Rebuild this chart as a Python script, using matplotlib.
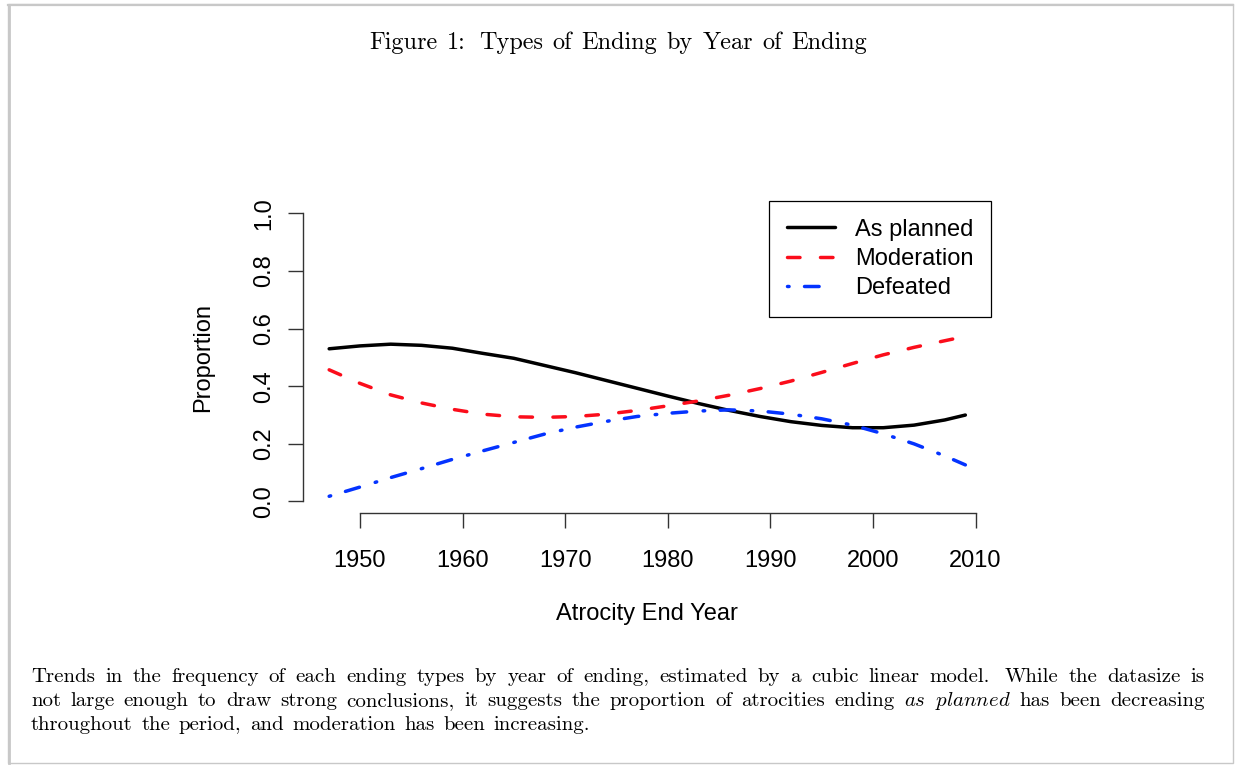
import matplotlib
matplotlib.use('Agg')
import matplotlib.pyplot as plt
from matplotlib.patches import Rectangle
from matplotlib.lines import Line2D

W, H = 1235, 765

# valores (ajuste cubico)
years = [1947, 1950, 1953, 1956, 1959, 1962, 1965, 1968, 1971, 1974, 1977,
         1980, 1983, 1986, 1989, 1992, 1995, 1998, 2001, 2004, 2007, 2009]
as_planned = [0.530, 0.540, 0.546, 0.542, 0.532, 0.514, 0.497, 0.472, 0.447, 0.420, 0.393,
              0.366, 0.340, 0.316, 0.295, 0.277, 0.264, 0.256, 0.256, 0.265, 0.283, 0.300]
moderation = [0.457, 0.410, 0.370, 0.342, 0.320, 0.303, 0.294, 0.292, 0.295, 0.303, 0.316,
              0.332, 0.349, 0.369, 0.392, 0.418, 0.448, 0.479, 0.509, 0.535, 0.558, 0.573]
defeated = [0.018, 0.050, 0.083, 0.114, 0.146, 0.176, 0.205, 0.234, 0.258, 0.278, 0.295,
            0.306, 0.314, 0.318, 0.314, 0.303, 0.287, 0.265, 0.235, 0.200, 0.158, 0.127]
labels = ['As planned', 'Moderation', 'Defeated']
x_ticks = [1950, 1960, 1970, 1980, 1990, 2000, 2010]
y_ticks = [0.0, 0.2, 0.4, 0.6, 0.8, 1.0]

title = "Figure 1: Types of Ending by Year of Ending"
cap1 = ("Trends in the frequency of each ending types by year of ending, estimated "
        "by a cubic linear model. While the datasize is")
cap2 = ("not large enough to draw strong conclusions, it suggests the proportion of "
        "atrocities ending $\\mathit{as}$ $\\mathit{planned}$ has been decreasing")
cap3 = "throughout the period, and moderation has been increasing."

plt.rcParams['font.family'] = 'Liberation Sans'
plt.rcParams['mathtext.fontset'] = 'cm'

fig = plt.figure(figsize=(W / 100, H / 100), dpi=100)
ax = fig.add_axes([303 / W, 1 - 513 / H, (991 - 303) / W, (513 - 201) / H])

lw = 2.5
ax.plot(years, as_planned, color='black', lw=lw, solid_capstyle='round', label=labels[0])
ax.plot(years, moderation, color='#fb0d1b', lw=lw, dashes=(3.6, 5.9),
        dash_capstyle='round', label=labels[1])
ax.plot(years, defeated, color='#0433ff', lw=lw, dashes=(0.45, 4.45, 4.2, 4.75),
        dash_capstyle='round', label=labels[2])

ax.set_xlim(1944.45, 2011.5)
ax.set_ylim(-0.04, 1.043)
ax.spines['top'].set_visible(False)
ax.spines['right'].set_visible(False)
ax.spines['left'].set_bounds(0, 1)
ax.spines['bottom'].set_bounds(1950, 2010)
for s in ['left', 'bottom']:
    ax.spines[s].set_color('#333333')
    ax.spines[s].set_linewidth(1.0)
ax.set_xticks(x_ticks)
ax.set_xticklabels([str(v) for v in x_ticks])
ax.set_yticks(y_ticks)
ax.set_yticklabels(['%.1f' % v for v in y_ticks], rotation=90, va='center')
ax.tick_params(length=10.8, width=1.0, color='#333333', labelsize=17)
ax.tick_params(axis='x', pad=16)
ax.tick_params(axis='y', pad=9)

ax.set_xlabel('Atrocity End Year', fontsize=17, va='center')
ax.xaxis.set_label_coords(0.5, -(614 - 513) / 312)
ax.set_ylabel('Proportion', fontsize=17, va='center')
ax.yaxis.set_label_coords(-(303 - 203) / 688, 0.5)

leg = ax.legend(loc='upper right', bbox_to_anchor=(1, 1), borderaxespad=0, fontsize=17,
                fancybox=False, edgecolor='black', framealpha=1, handlelength=2.03,
                handletextpad=0.85, labelspacing=0.3, borderpad=0.75)
leg.get_frame().set_linewidth(0.9)

# marco gris de la pagina
fig.patches.append(Rectangle((8 / W, 1 - 763 / H), 1225 / W, 759 / H, transform=fig.transFigure,
                             fill=False, edgecolor='#c8c8c8', lw=1.0))
fig.lines.append(Line2D([9 / W, 9 / W], [1 - 763 / H, 1 - 5 / H], transform=fig.transFigure,
                        color='#c8c8c8', lw=2.0))
fig.lines.append(Line2D([8 / W, 1233 / W], [1 - 5 / H, 1 - 5 / H], transform=fig.transFigure,
                        color='#c8c8c8', lw=1.6))


# coloca las palabras de una linea entre x0 y x1 (texto justificado como en LaTeX)
def justify(line, y, x0, x1, fs):
    words = line.split(' ')
    ts = [fig.text(0, 1 - y / H, w, family='cmr10', fontsize=fs, va='baseline') for w in words]
    fig.canvas.draw()
    r = fig.canvas.get_renderer()
    ws = [t.get_window_extent(r).width for t in ts]
    weights = [1.5 if w.endswith('.') or w.endswith(':') else 1.0 for w in words[:-1]]
    unit = (x1 - x0 - sum(ws)) / sum(weights)
    x = x0
    for i, t in enumerate(ts):
        t.set_x(x / W)
        if i < len(weights):
            x += ws[i] + unit * weights[i]


justify(title, 49, 369, 867, 17.5)
justify(cap1, 682.5, 31, 1205, 15)
justify(cap2, 706.5, 31, 1205, 15)
justify(cap3, 730.5, 31, 590, 15)

fig.savefig('out.png', dpi=100)
